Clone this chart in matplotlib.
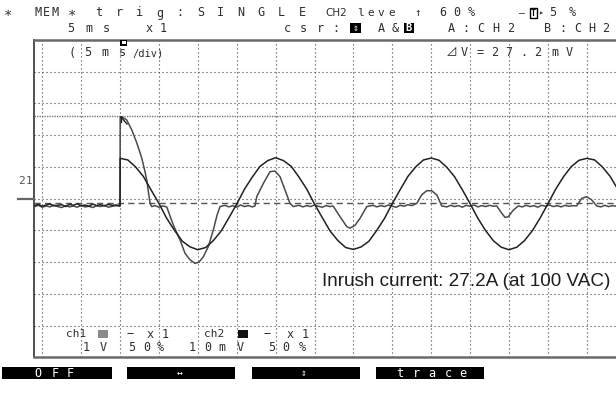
import matplotlib
matplotlib.use('Agg')
import matplotlib.pyplot as plt
from matplotlib.patches import Rectangle

W, H = 616, 415

# time in ms (5 ms/div), amplitude in screen divisions
volt_t = [-11.0, -10.5, -10.0, -9.5, -9.0, -8.5, -8.0, -7.5, -7.0, -6.5, -6.0, -5.5,
          -5.0, -4.5, -4.0, -3.5, -3.0, -2.5, -2.0, -1.5, -1.0, -0.5, 0.0,
          0.02, 1, 2, 3, 4, 5, 6, 7, 8, 9, 10, 11, 12, 13, 14, 15, 16, 17, 18, 19,
          20, 21, 22, 23, 24, 25, 26, 27, 28, 29, 30, 31, 32, 33, 34, 35, 36, 37, 38, 39,
          40, 41, 42, 43, 44, 45, 46, 47, 48, 49, 50, 51, 52, 53, 54, 55, 56, 57, 58, 59,
          60, 61, 62, 63, 63.75]
volt = [-0.22, -0.18, -0.24, -0.20, -0.17, -0.23, -0.21, -0.19, -0.25, -0.18, -0.21, -0.16,
        -0.23, -0.20, -0.24, -0.17, -0.22, -0.19, -0.23, -0.18, -0.21, -0.20, -0.22,
        1.27, 1.22, 1.00, 0.70, 0.27, -0.15, -0.62, -1.00, -1.34, -1.52, -1.61, -1.54, -1.32, -1.02, -0.60, -0.17, 0.30, 0.68, 1.02, 1.20,
        1.29, 1.20, 1.02, 0.68, 0.30, -0.17, -0.60, -1.02, -1.32, -1.54, -1.60, -1.52, -1.34, -1.00, -0.62, -0.15, 0.28, 0.70, 1.00, 1.22,
        1.28, 1.21, 0.99, 0.69, 0.28, -0.16, -0.62, -1.01, -1.33, -1.53, -1.61, -1.53, -1.32, -1.01, -0.61, -0.16, 0.30, 0.69, 1.01, 1.21,
        1.27, 1.22, 1.00, 0.70, 0.39]

curr_t = [-11.0, -10.5, -10.0, -9.5, -9.0, -8.5, -8.0, -7.5, -7.0, -6.5, -6.0, -5.5,
          -5.0, -4.5, -4.0, -3.5, -3.0, -2.5, -2.0, -1.5, -1.0, -0.5, 0.0,
          0.02, 0.22, 0.86, 1.50, 2.15, 2.79, 3.21, 3.43, 3.64, 3.86, 4.07,
          4.5, 5.0, 5.5, 6.0, 6.85, 7.71, 8.35, 9.0, 9.64, 10.15, 10.71, 11.35, 11.99, 12.47, 12.85,
          13.5, 14.0, 14.5, 15.0, 15.5, 16.0, 16.5, 17.0, 17.35,
          17.57, 18.42, 19.28, 19.92, 20.57, 21.21, 21.85, 22.28,
          23.0, 23.5, 24.0, 24.5, 25.0, 25.5, 26.0, 26.5, 27.0, 27.38,
          28.28, 29.14, 29.56, 30.21, 30.85, 31.71,
          32.5, 33.0, 33.5, 34.0, 34.5, 35.0, 35.5, 36.0, 36.5, 37.0, 37.5, 38.14,
          38.78, 39.42, 40.06, 40.71, 41.35,
          42.0, 42.5, 43.0, 43.5, 44.0, 44.5, 45.0, 45.5, 46.0, 46.5, 47.0, 47.5, 48.0, 48.42,
          49.06, 49.49, 49.91, 50.55, 51.2,
          51.7, 52.2, 52.7, 53.2, 53.7, 54.2, 54.7, 55.2, 55.7, 56.2, 56.7, 57.2, 57.7, 58.2, 58.7,
          59.34, 59.98, 60.63, 61.27,
          61.8, 62.3, 62.8, 63.3, 63.75]
curr = [-0.25, -0.21, -0.27, -0.23, -0.26, -0.20, -0.25, -0.28, -0.22, -0.26, -0.23, -0.27,
        -0.21, -0.26, -0.24, -0.28, -0.22, -0.25, -0.21, -0.27, -0.24, -0.22, -0.24,
        2.58, 2.58, 2.48, 2.17, 1.76, 1.28, 0.85, 0.59, 0.22, -0.14, -0.25,
        -0.22, -0.27, -0.23, -0.26, -0.83, -1.30, -1.72, -1.93, -2.04, -2.00, -1.83, -1.51, -0.99, -0.52, -0.25,
        -0.21, -0.26, -0.22, -0.27, -0.20, -0.25, -0.22, -0.26, -0.23,
        0.06, 0.48, 0.85, 0.87, 0.69, 0.27, -0.15, -0.25,
        -0.21, -0.26, -0.22, -0.25, -0.20, -0.24, -0.27, -0.22, -0.25, -0.23,
        -0.57, -0.88, -0.93, -0.84, -0.62, -0.25,
        -0.21, -0.26, -0.22, -0.25, -0.20, -0.24, -0.27, -0.21, -0.24, -0.19, -0.22, -0.15,
        0.12, 0.25, 0.25, 0.12, -0.23,
        -0.26, -0.21, -0.25, -0.22, -0.27, -0.21, -0.24, -0.20, -0.26, -0.22, -0.25, -0.21, -0.24, -0.23,
        -0.46, -0.59, -0.57, -0.36, -0.23,
        -0.26, -0.21, -0.25, -0.22, -0.27, -0.21, -0.24, -0.20, -0.25, -0.22, -0.26, -0.21, -0.24, -0.22, -0.23,
        0.01, 0.06, -0.04, -0.23,
        -0.26, -0.21, -0.25, -0.22, -0.24]

grid_t = [-10, -5, 0, 5, 10, 15, 20, 25, 30, 35, 40, 45, 50, 55, 60]
grid_d = [-4, -3, -2, -1, 0, 1, 2, 3, 4]
trig_level = -0.13
cursor_level = 2.61

ink = '#2e2e2e'
mono = ['DejaVu Sans Mono', 'Noto Sans CJK JP']
fs = 8.5


def fx(x):
    return x / W


def fy(y):
    return 1 - y / H


fig = plt.figure(figsize=(W / 100, H / 100), dpi=100)
fig.patch.set_facecolor('white')

ax = fig.add_axes([fx(34.3), fy(357.3), (W - 34.3) / W, (357.3 - 40) / H])
ax.set_xlim(-11.02, 63.75)
ax.set_ylim(-5, 5)
ax.set_xticks([])
ax.set_yticks([])
ax.spines['right'].set_visible(False)
ax.spines['left'].set_color('#333333')
ax.spines['left'].set_linewidth(1.2)
for s in ['top', 'bottom']:
    ax.spines[s].set_color('#6a6a6a')
    ax.spines[s].set_linewidth(1.8)

# screen graticule
for t in grid_t:
    ax.axvline(t, color='#444444', lw=0.8, ls=(0, (1, 2.6)), zorder=1)
for d in grid_d:
    ax.axhline(d, color='#444444', lw=0.8, ls=(0, (1, 2.6)), zorder=1)
ax.axhline(trig_level, color='#555555', lw=1.0, ls=(0, (4.5, 3)), zorder=1)
ax.axhline(cursor_level, color='#7a7a7a', lw=1.0, ls=(0, (1, 0.8)), zorder=1)

# traces
ax.plot(curr_t, curr, color='#4a4a4a', lw=1.1, zorder=3)
ax.plot(volt_t, volt, color='#222222', lw=1.1, zorder=4)

ax.text(0.494, 0.239, 'Inrush current: 27.2A (at 100 VAC)', transform=ax.transAxes,
        family='Liberation Sans', fontsize=13.6, color='#1e1e1e', ha='left', va='center')


def put(x, y, s, size=fs, color=ink, **kw):
    fig.text(fx(x), fy(y), s, ha='center', va='center', fontsize=size,
             family=mono, color=color, **kw)


def row(xs, y, chars, **kw):
    for x, c in zip(xs, chars):
        put(x, y, c, **kw)


def box(x0, y0, x1, y1, color='black'):
    fig.add_artist(Rectangle((fx(x0), fy(y1)), (x1 - x0) / W, (y1 - y0) / H,
                             transform=fig.transFigure, facecolor=color,
                             edgecolor='none'))


# header line 1
put(8.5, 13, '∗', size=10)
row([38, 46.5, 55], 13, 'MEM')
put(72.5, 13, '∗', size=10)
row([99 + 20.3 * i for i in range(11)], 13, 'trig:SINGLE')
fig.text(fx(325), fy(13), 'CH2', ha='left', va='center', fontsize=7.5,
         family='DejaVu Sans', color=ink)
row([360, 370.5, 381, 391.5], 13, 'leve', size=8)
put(418, 13, '↑', size=8)
row([443, 457, 471], 13, '60%')
put(522, 13, '–', size=7)
fig.text(fx(533.5), fy(13), 'T', ha='center', va='center', fontsize=6,
         family=mono, color='black', fontweight='bold',
         bbox=dict(boxstyle='square,pad=0.1', fc='white', ec='black', lw=1))
put(541, 13, '▸', size=6)
row([553, 572], 13, '5%')

# header line 2
row([71, 89, 106], 28, '5ms')
row([149, 163], 28, 'x1')
row([287, 303, 320, 336], 28, 'csr:')
box(350, 23, 361, 33)
put(355.5, 28, '⇕', size=7, color='white')
row([381, 395], 28, 'A&')
box(404, 23, 414, 33)
put(409, 28, 'B', size=7.5, color='white', fontweight='bold')
row([451, 466, 481, 496, 511], 28, 'A:CH2')
row([548, 563, 578, 592, 606], 28, 'B:CH2')

# inside the screen, top
row([72, 88, 105, 122], 53, '(5ms')
fig.text(fx(132), fy(53), '/div)', ha='left', va='center', fontsize=7.5,
         family=mono, color=ink)
row([452, 464, 480, 495, 509, 524, 538, 555, 569], 53, '⊿V=27.2mV')
box(120, 40, 127, 46)
box(121.5, 41.5, 125.5, 44.5, color='white')
fig.add_artist(plt.Line2D([fx(121), fx(127)], [fy(117), fy(124)],
                          color='#222222', lw=1.0))
fig.add_artist(plt.Line2D([fx(121), fx(121)], [fy(117), fy(122)],
                          color='#222222', lw=1.0))

# channel 2 ground marker
row([21.5, 29.5], 181, '21', size=8, color='#555555')
fig.add_artist(plt.Line2D([fx(18), fx(34)], [fy(199), fy(199)],
                          color='#666666', lw=1.6))

# channel settings inside the bottom row
fig.text(fx(66), fy(334), 'ch1', ha='left', va='center', fontsize=8,
         family=mono, color=ink)
box(98, 330, 108, 338, color='#8a8a8a')
row([130, 150, 165], 334, '−x1')
fig.text(fx(204), fy(334), 'ch2', ha='left', va='center', fontsize=8,
         family=mono, color=ink)
box(238, 330, 248, 338, color='#111111')
row([267, 290, 305], 334, '−x1')
row([86, 103], 347, '1V')
row([132, 147, 160], 347, '50%')
row([192, 208, 222, 240], 347, '10mV')
row([272, 286, 302], 347, '50%')

# soft keys
for x0, x1 in [(2, 112), (127, 235), (252, 360), (376, 484)]:
    box(x0, 367, x1, 379)
row([38, 55, 70], 373, 'OFF', color='white')
put(180, 373, '↔', size=7, color='white')
put(304, 373, '⇕', size=7, color='white')
row([400, 416, 432, 448, 463], 373, 'trace', color='white')

fig.savefig('out.png', dpi=100)
